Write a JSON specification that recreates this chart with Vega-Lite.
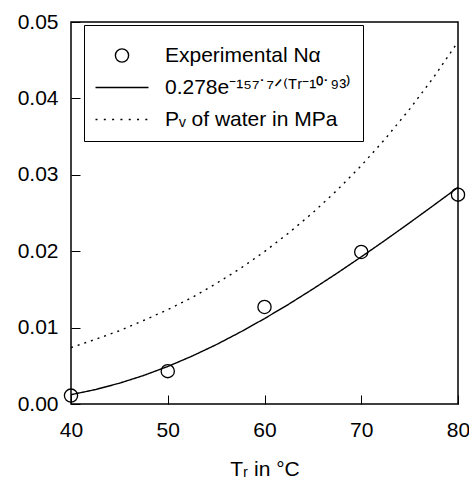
{
  "$schema": "https://vega.github.io/schema/vega-lite/v6.json",
  "width": 387,
  "height": 382,
  "autosize": {"type": "none"},
  "padding": {"left": 71, "top": 22, "right": 11, "bottom": 77},
  "background": "white",
  "config": {
    "view": {"stroke": "black", "strokeWidth": 1.5},
    "font": "Liberation Sans",
    "axis": {
      "domain": false,
      "grid": false,
      "tickColor": "black",
      "labelColor": "black",
      "titleColor": "black",
      "labelFont": "Liberation Sans",
      "labelFontSize": 21,
      "titleFont": "Liberation Sans",
      "titleFontSize": 21,
      "titleFontWeight": "normal"
    }
  },
  "datasets": {
    "curves": [
      {"T": 40, "value": 0.00122, "series": "fit"},
      {"T": 42.5, "value": 0.00188, "series": "fit"},
      {"T": 45, "value": 0.00272, "series": "fit"},
      {"T": 47.5, "value": 0.00373, "series": "fit"},
      {"T": 50, "value": 0.00491, "series": "fit"},
      {"T": 52.5, "value": 0.00626, "series": "fit"},
      {"T": 55, "value": 0.00776, "series": "fit"},
      {"T": 57.5, "value": 0.00941, "series": "fit"},
      {"T": 60, "value": 0.01118, "series": "fit"},
      {"T": 62.5, "value": 0.01306, "series": "fit"},
      {"T": 65, "value": 0.01505, "series": "fit"},
      {"T": 67.5, "value": 0.01712, "series": "fit"},
      {"T": 70, "value": 0.01926, "series": "fit"},
      {"T": 72.5, "value": 0.02146, "series": "fit"},
      {"T": 75, "value": 0.02372, "series": "fit"},
      {"T": 77.5, "value": 0.02602, "series": "fit"},
      {"T": 80, "value": 0.02835, "series": "fit"},
      {"T": 40, "value": 0.00738, "series": "pv"},
      {"T": 42.5, "value": 0.00845, "series": "pv"},
      {"T": 45, "value": 0.00959, "series": "pv"},
      {"T": 47.5, "value": 0.01093, "series": "pv"},
      {"T": 50, "value": 0.01235, "series": "pv"},
      {"T": 52.5, "value": 0.01393, "series": "pv"},
      {"T": 55, "value": 0.01576, "series": "pv"},
      {"T": 57.5, "value": 0.01774, "series": "pv"},
      {"T": 60, "value": 0.01995, "series": "pv"},
      {"T": 62.5, "value": 0.02238, "series": "pv"},
      {"T": 65, "value": 0.02504, "series": "pv"},
      {"T": 67.5, "value": 0.02799, "series": "pv"},
      {"T": 70, "value": 0.0312, "series": "pv"},
      {"T": 72.5, "value": 0.03474, "series": "pv"},
      {"T": 75, "value": 0.0386, "series": "pv"},
      {"T": 77.5, "value": 0.04279, "series": "pv"},
      {"T": 80, "value": 0.04741, "series": "pv"}
    ],
    "exp": [
      {"T": 40, "value": 0.0011, "series": "exp"},
      {"T": 50, "value": 0.0043, "series": "exp"},
      {"T": 60, "value": 0.0127, "series": "exp"},
      {"T": 70, "value": 0.0199, "series": "exp"},
      {"T": 80, "value": 0.0274, "series": "exp"}
    ]
  },
  "layer": [
    {
      "data": {"name": "curves"},
      "mark": {"type": "line", "color": "black", "strokeWidth": 1.4},
      "encoding": {
        "x": {
          "field": "T",
          "type": "quantitative",
          "scale": {"domain": [40, 80], "nice": false, "zero": false},
          "axis": {
            "orient": "bottom",
            "values": [40, 50, 60, 70, 80],
            "tickSize": -9,
            "labelOverlap": false,
            "labelFlush": false,
            "labelPadding": 24,
            "title": "Tᵣ in °C",
            "titlePadding": 18
          }
        },
        "y": {
          "field": "value",
          "type": "quantitative",
          "scale": {"domain": [0, 0.05], "nice": false},
          "axis": {
            "orient": "left",
            "values": [0, 0.01, 0.02, 0.03, 0.04, 0.05],
            "format": ".2f",
            "tickSize": -9,
            "labelOverlap": false,
            "labelFlush": false,
            "labelPadding": 22,
            "title": null
          }
        },
        "detail": {"field": "series"},
        "strokeDash": {
          "field": "series",
          "type": "nominal",
          "scale": {"domain": ["fit", "pv"], "range": [[1, 0], [2, 5]]},
          "legend": null
        }
      }
    },
    {
      "data": {"name": "exp"},
      "mark": {"type": "point", "filled": false, "stroke": "black", "strokeWidth": 1.3, "size": 1369, "opacity": 1},
      "encoding": {
        "x": {"field": "T", "type": "quantitative"},
        "y": {"field": "value", "type": "quantitative"},
        "shape": {
          "field": "series",
          "type": "nominal",
          "scale": {
            "domain": ["exp", "fit", "pv"],
            "range": [
              "M-0.357,0a0.357,0.357 0 1,0 0.714,0a0.357,0.357 0 1,0 -0.714,0Z",
              "M-1.432,0L1.432,0",
              "M-1.432,0h0.108m0.341,0h0.108m0.341,0h0.108m0.341,0h0.108m0.341,0h0.108m0.341,0h0.108m0.341,0h0.108"
            ]
          },
          "legend": {
            "orient": "none",
            "legendX": 13,
            "legendY": 3,
            "title": null,
            "strokeColor": "black",
            "fillColor": "white",
            "padding": 11,
            "symbolSize": 1369,
            "symbolOffset": 7.5,
            "symbolStrokeWidth": 1.4,
            "symbolStrokeColor": "black",
            "symbolFillColor": "transparent",
            "labelFont": "Liberation Sans",
            "labelFontSize": 21,
            "labelColor": "black",
            "labelOffset": 23.5,
            "labelLimit": 400,
            "rowPadding": 2,
            "labelExpr": "datum.value === 'exp' ? 'Experimental Nα' : datum.value === 'fit' ? '0.278e⁻¹⁵⁷˙⁷ᐟ⁽ᵀʳ⁻¹⁰˙⁹³⁾' : 'Pᵥ of water in MPa'"
          }
        }
      }
    }
  ]
}
